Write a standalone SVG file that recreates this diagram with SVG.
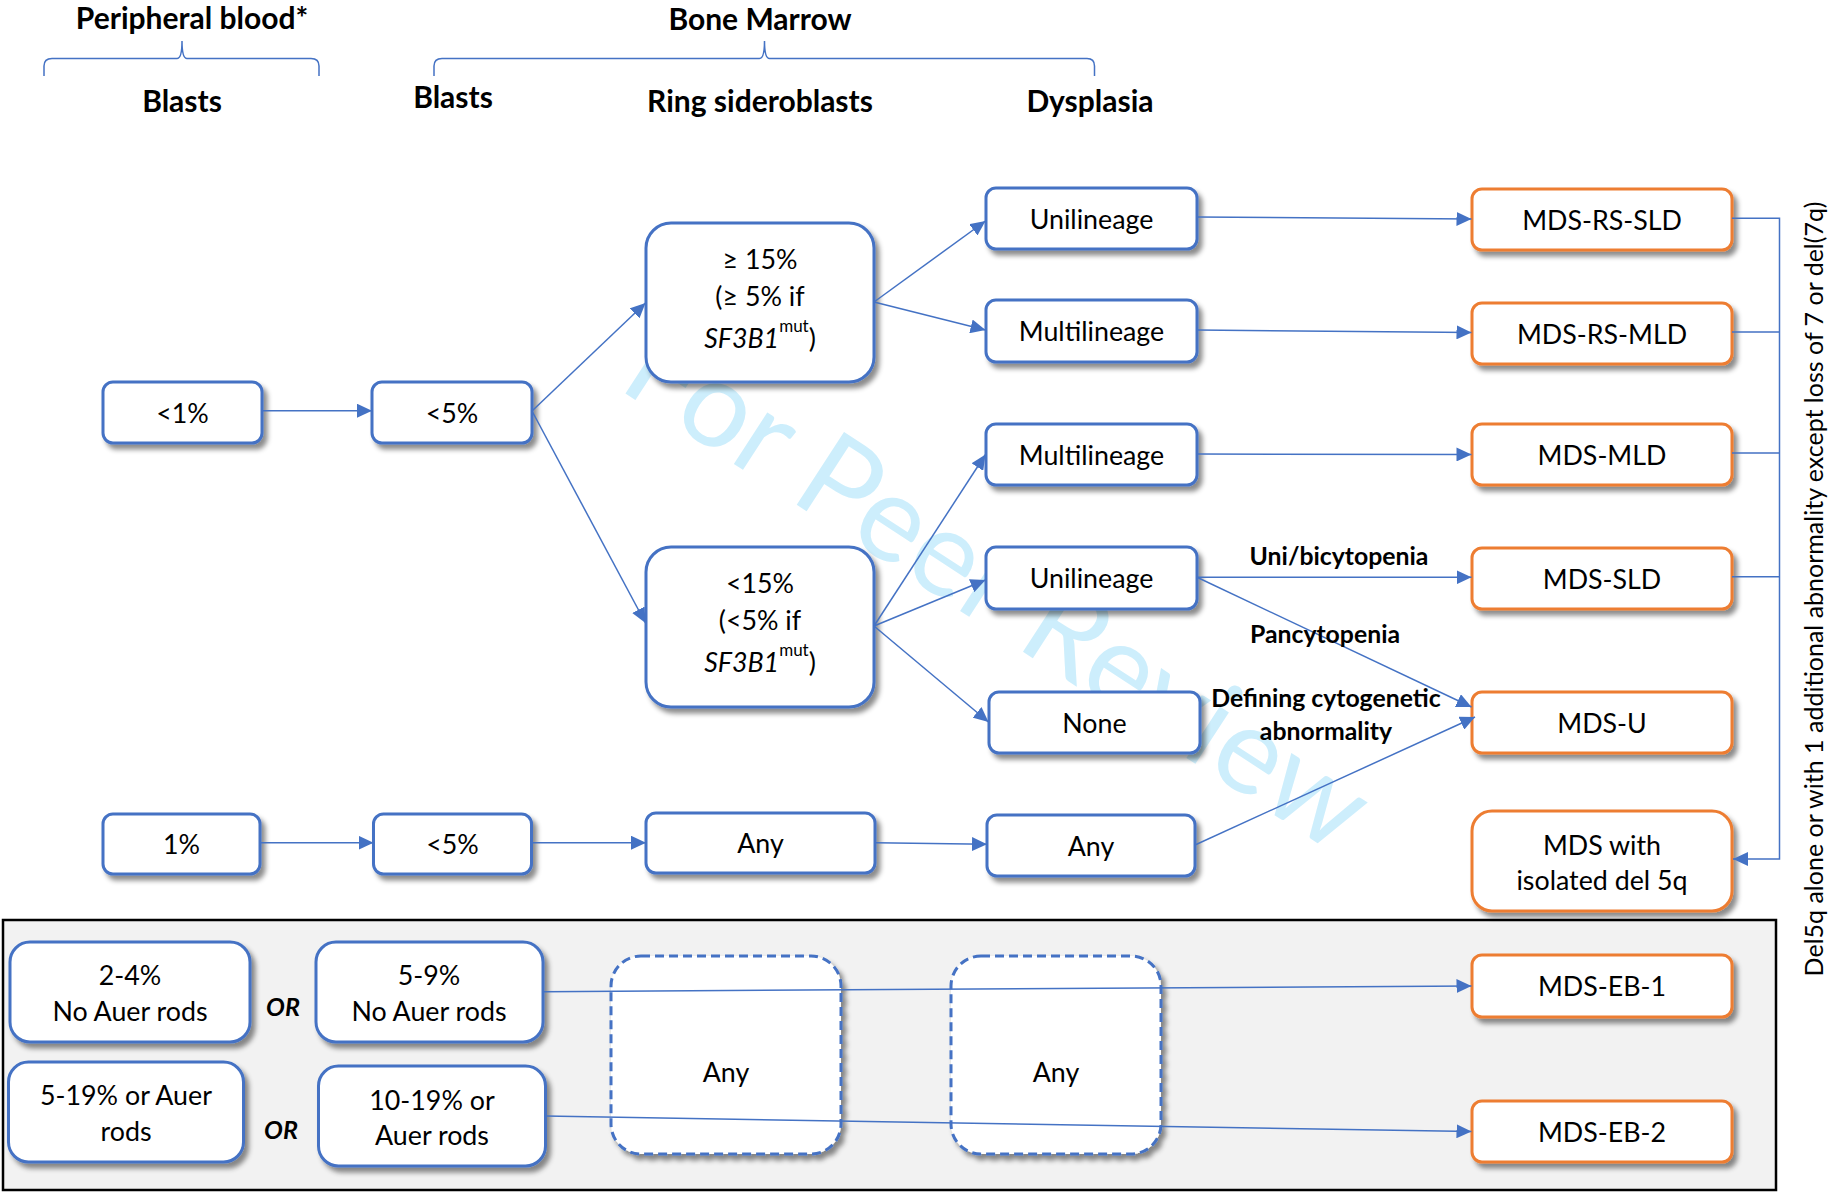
<svg xmlns="http://www.w3.org/2000/svg" width="1843" height="1192" viewBox="0 0 1843 1192">
<defs>
<filter id="sh" x="-10%" y="-10%" width="130%" height="140%">
<feDropShadow dx="4" dy="5" stdDeviation="2.5" flood-color="#000" flood-opacity="0.45"/>
</filter>
<marker id="ah" markerUnits="userSpaceOnUse" markerWidth="15" markerHeight="14" refX="15" refY="7" orient="auto">
<path d="M0,0 L15,7 L0,14 z" fill="#4472C4"/>
</marker>
</defs>
<style>
.b{fill:#fff;stroke:#4472C4;stroke-width:3;filter:url(#sh)}
.o{fill:#fff;stroke:#ED7D31;stroke-width:3;filter:url(#sh)}
.d{fill:#fff;stroke:#4472C4;stroke-width:3;stroke-dasharray:9 5;filter:url(#sh)}
.t{font-family:Lato,"Open Sans",sans-serif;font-size:26.8px;fill:#000;text-anchor:middle}
.h{font-family:Lato,"Open Sans",sans-serif;font-weight:bold;font-size:30px;fill:#000;text-anchor:middle}
.l{font-family:Lato,"Open Sans",sans-serif;font-weight:bold;font-size:24.8px;fill:#000;text-anchor:middle}
.or{font-family:Lato,"Open Sans",sans-serif;font-weight:bold;font-style:italic;font-size:25px;fill:#000;text-anchor:middle}
.c{fill:none;stroke:#4472C4;stroke-width:1.5}
.a{marker-end:url(#ah)}
.br{fill:none;stroke:#4472C4;stroke-width:1.5}
.i{font-style:italic}
.sup{font-size:17px}
</style>
<rect width="1843" height="1192" fill="#fff"/>
<text transform="translate(999,586) rotate(33)" y="42" font-family="Lato, sans-serif" font-size="121" fill="#CDEEFC" text-anchor="middle">For Peer Review</text>

<g id="headers">
<text class="h" x="192" y="29">Peripheral blood*</text>
<text class="h" x="760" y="30">Bone Marrow</text>
<text class="h" x="182" y="112">Blasts</text>
<text class="h" x="453" y="108">Blasts</text>
<text class="h" x="760" y="112">Ring sideroblasts</text>
<text class="h" x="1090" y="112">Dysplasia</text>
<path class="br" d="M44,76 L44,66 Q44,58.5 52,58.5 L177,58.5 Q182,58.5 182,41 Q182,58.5 187,58.5 L311,58.5 Q319,58.5 319,66 L319,76"/>
<path class="br" d="M434,76 L434,66 Q434,58.5 442,58.5 L759.5,58.5 Q764.5,58.5 764.5,41 Q764.5,58.5 769.5,58.5 L1087,58.5 Q1094.5,58.5 1094.5,66 L1094.5,76"/>
</g>

<rect id="ebgroup" x="3" y="920" width="1773" height="270" fill="#F2F2F2" stroke="#000" stroke-width="2.5"/>

<g id="n-pb1"><rect class="b" x="103" y="382" width="159" height="61" rx="10"/><text class="t" x="182.5" y="423">&lt;1%</text></g>
<g id="n-bm1"><rect class="b" x="372" y="382" width="160" height="61" rx="10"/><text class="t" x="452" y="423">&lt;5%</text></g>
<g id="n-rs1"><rect class="b" x="646" y="223" width="228" height="159" rx="25"/>
<text class="t" x="760" y="269">≥ 15%</text>
<text class="t" x="760" y="306">(≥ 5% if</text>
<text class="t" x="760" y="348"><tspan class="i">SF3B1</tspan><tspan class="sup" dy="-16">mut</tspan><tspan dy="16">)</tspan></text></g>
<g id="n-rs2"><rect class="b" x="646" y="547" width="228" height="160" rx="25"/>
<text class="t" x="760" y="593">&lt;15%</text>
<text class="t" x="760" y="630">(&lt;5% if</text>
<text class="t" x="760" y="672"><tspan class="i">SF3B1</tspan><tspan class="sup" dy="-16">mut</tspan><tspan dy="16">)</tspan></text></g>
<g id="n-dys1"><rect class="b" x="986" y="188" width="211" height="61" rx="10"/><text class="t" x="1091.5" y="229">Unilineage</text></g>
<g id="n-dys2"><rect class="b" x="986" y="300" width="211" height="62" rx="10"/><text class="t" x="1091.5" y="341">Multilineage</text></g>
<g id="n-dys3"><rect class="b" x="986" y="424" width="211" height="61" rx="10"/><text class="t" x="1091.5" y="465">Multilineage</text></g>
<g id="n-dys4"><rect class="b" x="986" y="547" width="211" height="62" rx="10"/><text class="t" x="1091.5" y="588">Unilineage</text></g>
<g id="n-dys5"><rect class="b" x="989" y="692" width="211" height="61" rx="10"/><text class="t" x="1094.5" y="733">None</text></g>
<g id="n-pb2"><rect class="b" x="103" y="814" width="157" height="60" rx="10"/><text class="t" x="181.5" y="854">1%</text></g>
<g id="n-bm2"><rect class="b" x="373.5" y="814" width="158" height="60" rx="10"/><text class="t" x="452.5" y="854">&lt;5%</text></g>
<g id="n-rs3"><rect class="b" x="646" y="813" width="229" height="60" rx="10"/><text class="t" x="760.5" y="853">Any</text></g>
<g id="n-dys6"><rect class="b" x="987" y="815" width="208" height="61" rx="10"/><text class="t" x="1091" y="856">Any</text></g>

<g id="n-out1"><rect class="o" x="1472" y="189" width="260" height="61" rx="10"/><text class="t" x="1602" y="230">MDS-RS-SLD</text></g>
<g id="n-out2"><rect class="o" x="1472" y="303" width="260" height="61" rx="10"/><text class="t" x="1602" y="344">MDS-RS-MLD</text></g>
<g id="n-out3"><rect class="o" x="1472" y="424" width="260" height="61" rx="10"/><text class="t" x="1602" y="465">MDS-MLD</text></g>
<g id="n-out4"><rect class="o" x="1472" y="548" width="260" height="61" rx="10"/><text class="t" x="1602" y="589">MDS-SLD</text></g>
<g id="n-out5"><rect class="o" x="1472" y="692" width="260" height="61" rx="10"/><text class="t" x="1602" y="733">MDS-U</text></g>
<g id="n-out6"><rect class="o" x="1472" y="811" width="260" height="100" rx="20"/><text class="t" x="1602" y="855">MDS with</text><text class="t" x="1602" y="890">isolated del 5q</text></g>
<g id="n-out7"><rect class="o" x="1472" y="955" width="260" height="62" rx="10"/><text class="t" x="1602" y="996">MDS-EB-1</text></g>
<g id="n-out8"><rect class="o" x="1472" y="1101" width="260" height="61" rx="10"/><text class="t" x="1602" y="1142">MDS-EB-2</text></g>

<g id="n-eb1pb"><rect class="b" x="10" y="942" width="240" height="100" rx="20"/><text class="t" x="130" y="985">2-4%</text><text class="t" x="130" y="1021">No Auer rods</text></g>
<g id="n-eb1bm"><rect class="b" x="316" y="942" width="227" height="100" rx="20"/><text class="t" x="429" y="985">5-9%</text><text class="t" x="429" y="1021">No Auer rods</text></g>
<g id="n-eb2pb"><rect class="b" x="8.5" y="1062" width="235" height="100" rx="20"/><text class="t" x="126" y="1105">5-19% or Auer</text><text class="t" x="126" y="1141">rods</text></g>
<g id="n-eb2bm"><rect class="b" x="318.5" y="1066" width="227" height="100" rx="20"/><text class="t" x="432" y="1110">10-19% or</text><text class="t" x="432" y="1145">Auer rods</text></g>
<g id="n-anyrs"><rect class="d" x="611" y="956" width="230" height="198" rx="30"/><text class="t" x="726" y="1082">Any</text></g>
<g id="n-anydys"><rect class="d" x="951" y="956" width="210" height="198" rx="30"/><text class="t" x="1056" y="1082">Any</text></g>
<text class="or" x="283" y="1016">OR</text>
<text class="or" x="281" y="1139">OR</text>

<g id="connectors">
<path class="c a" d="M262,410.7 L372,410.7"/>
<path class="c a" d="M532,411 L645.5,303"/>
<path class="c a" d="M532,411 L645.5,623"/>
<path class="c a" d="M874,302 L985.5,221"/>
<path class="c a" d="M874,302 L985.5,330"/>
<path class="c a" d="M874,626 L985.5,454.5"/>
<path class="c a" d="M874,626 L985.5,580"/>
<path class="c a" d="M874,626 L988.5,722"/>
<path class="c a" d="M1197,217 L1471.5,219"/>
<path class="c a" d="M1197,330 L1471.5,332.5"/>
<path class="c a" d="M1197,454 L1471.5,454.5"/>
<path class="c a" d="M1197,577.3 L1471.5,577.3"/>
<path class="c a" d="M1197,577.3 L1471.5,707"/>
<path class="c a" d="M1195,845 L1475,717"/>
<path class="c a" d="M260,842.7 L373.5,842.7"/>
<path class="c a" d="M531,842.7 L646,842.7"/>
<path class="c a" d="M875.5,842.7 L987,844.3"/>
<path class="c a" d="M543.4,991.7 L1471.5,986"/>
<path class="c a" d="M545.3,1116 L1471.5,1131.5"/>
<path class="c a" d="M1732,218.3 H1779.5 V859 H1733"/>
<path class="c" d="M1732,332 H1779.5 M1732,453 H1779.5 M1732,576.7 H1779.5"/>
<text class="l" x="1339" y="565">Uni/bicytopenia</text>
<text class="l" x="1325" y="643">Pancytopenia</text>
<text class="l" x="1326" y="707">Defining cytogenetic</text>
<text class="l" x="1326" y="740">abnormality</text>
</g>
<text transform="translate(1823,589) rotate(-90)" font-family="Lato, 'Open Sans', sans-serif" font-size="25" fill="#000" text-anchor="middle">Del5q alone or with 1 additional abnormality except loss of 7 or del(7q)</text>
</svg>
